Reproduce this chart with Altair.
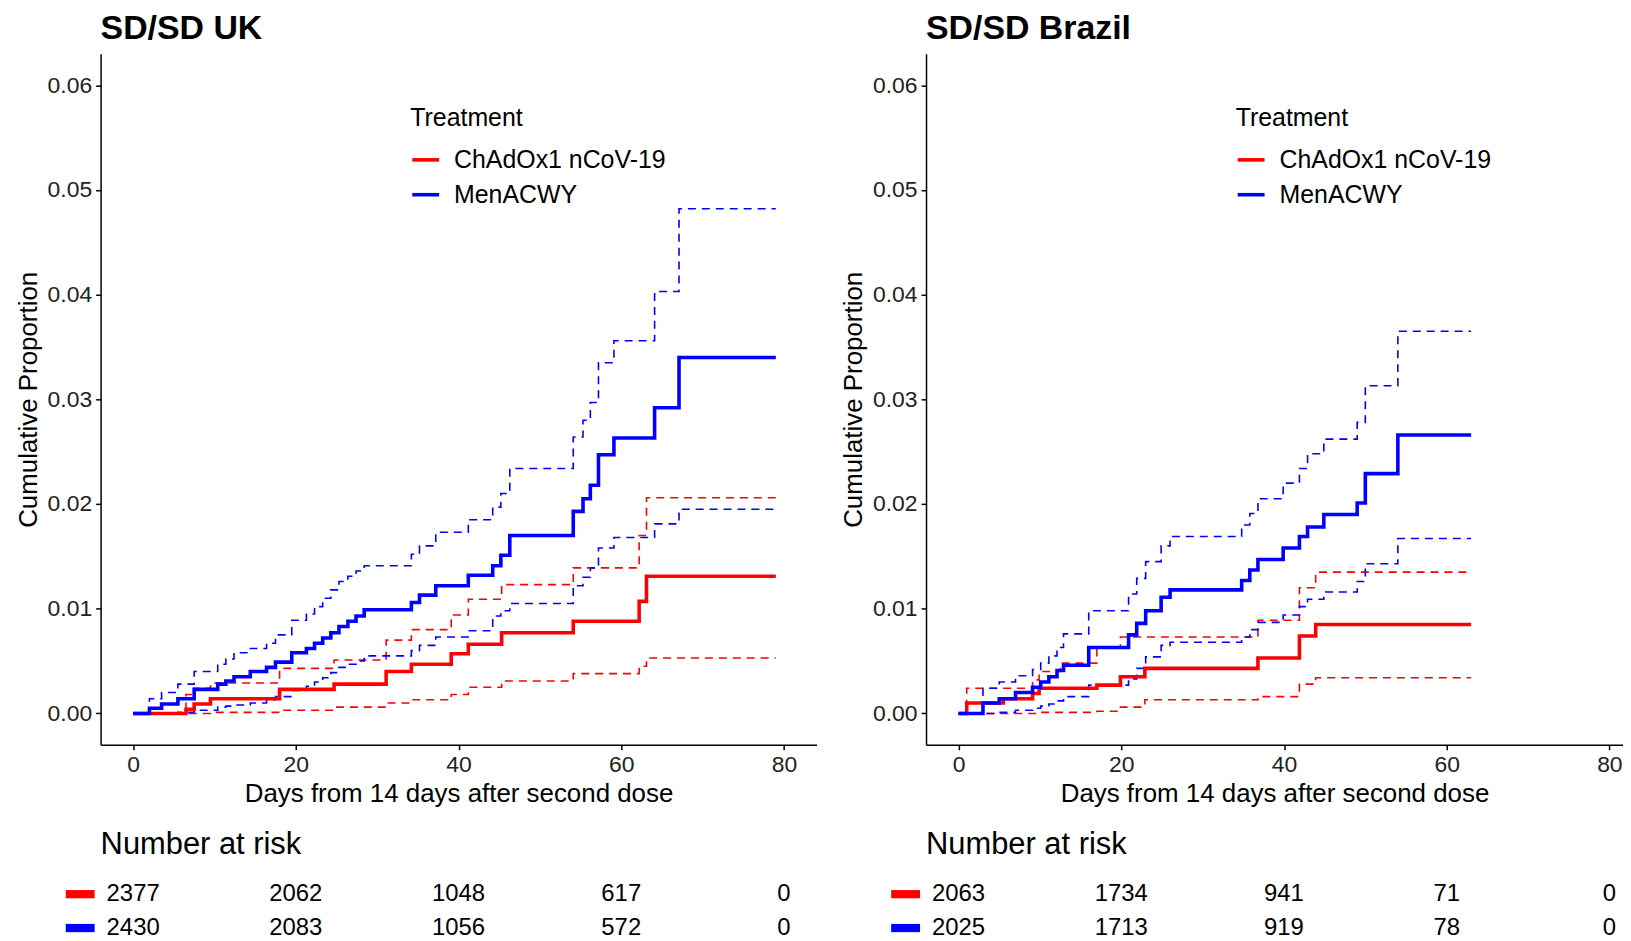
import altair as alt
import pandas as pd

# ---------------- data ----------------
TREATS = ["ChAdOx1 nCoV-19", "MenACWY"]
COLORS = ["#FF0000", "#0000FF"]

# UK, MenACWY
uk_blue_t = [0, 2, 3.5, 5.5, 7.5, 10.4, 11.4, 12.4, 14.4, 16.4, 17.5, 19.5, 21.3, 22.3, 23.3,
             24.3, 25.3, 26.4, 27.4, 28.4, 34.2, 35.2, 37.2, 41.2, 44.2, 45.2, 46.3, 54.1, 55.3,
             56.2, 57.2, 59.1, 64.1, 67.1, 79]
uk_blue_est = [0, 0.0005, 0.0009, 0.0014, 0.0023, 0.0028, 0.0031, 0.0035, 0.0040, 0.0044, 0.0049,
               0.0058, 0.0062, 0.0067, 0.0072, 0.0077, 0.0083, 0.0088, 0.0093, 0.0099, 0.0106,
               0.0113, 0.0122, 0.0132, 0.0141, 0.0151, 0.0170, 0.0193, 0.0205, 0.0218, 0.0247,
               0.0263, 0.0292, 0.0340, 0.0340]
uk_blue_hi = [0, 0.0014, 0.0020, 0.0028, 0.0040, 0.0047, 0.0052, 0.0058, 0.0062, 0.0067, 0.0075,
              0.0089, 0.0095, 0.0102, 0.0110, 0.0118, 0.0126, 0.0131, 0.0136, 0.0141, 0.0152,
              0.0160, 0.0173, 0.0185, 0.0197, 0.0210, 0.0234, 0.0264, 0.0280, 0.0297, 0.0335,
              0.0356, 0.0403, 0.0482, 0.0482]
uk_blue_lo = [0, 0, 0, 0.0001, 0.0003, 0.0006, 0.0007, 0.0008, 0.0010, 0.0013, 0.0016, 0.0022,
              0.0026, 0.0030, 0.0034, 0.0039, 0.0044, 0.0047, 0.0050, 0.0055, 0.0060, 0.0065,
              0.0073, 0.0079, 0.0093, 0.0098, 0.0105, 0.0122, 0.0130, 0.0139, 0.0158, 0.0168,
              0.0181, 0.0195, 0.0195]

# UK, ChAdOx1 nCoV-19
uk_red_t = [0, 6.5, 7.5, 9.5, 18, 24.7, 31.1, 34.2, 39.1, 41.2, 45.3, 54.1, 62.2, 63.1, 79]
uk_red_est = [0, 0.0004, 0.0009, 0.0014, 0.0023, 0.0028, 0.0040, 0.0047, 0.0057, 0.0066, 0.0077,
              0.0088, 0.0107, 0.0131, 0.0131]
uk_red_hi = [0, 0.0018, 0.0024, 0.0029, 0.0043, 0.0051, 0.0070, 0.0080, 0.0094, 0.0109, 0.0123,
             0.0139, 0.0170, 0.0206, 0.0206]
uk_red_lo = [0, 0, 0, 0.0001, 0.0003, 0.0006, 0.0010, 0.0013, 0.0018, 0.0025, 0.0031, 0.0038,
             0.0045, 0.0053, 0.0053]

# Brazil, MenACWY
br_blue_t = [0, 3, 5, 7, 9.1, 10.1, 11.1, 12.1, 12.9, 16, 20.9, 21.9, 23, 24.9, 26, 34.8, 35.8,
             36.8, 39.9, 41.9, 42.9, 44.9, 49, 50, 54, 63]
br_blue_est = [0, 0.0010, 0.0014, 0.0020, 0.0025, 0.0030, 0.0035, 0.0041, 0.0046, 0.0063, 0.0075,
               0.0086, 0.0098, 0.0111, 0.0118, 0.0127, 0.0137, 0.0147, 0.0158, 0.0169, 0.0178,
               0.0190, 0.0201, 0.0229, 0.0266, 0.0266]
br_blue_hi = [0, 0.0024, 0.0030, 0.0036, 0.0042, 0.0048, 0.0055, 0.0063, 0.0076, 0.0098, 0.0114,
              0.0129, 0.0145, 0.0160, 0.0169, 0.0180, 0.0191, 0.0205, 0.0220, 0.0234, 0.0248,
              0.0262, 0.0278, 0.0313, 0.0365, 0.0365]
br_blue_lo = [0, 0, 0.0001, 0.0003, 0.0005, 0.0007, 0.0009, 0.0012, 0.0016, 0.0027, 0.0033,
              0.0043, 0.0054, 0.0065, 0.0068, 0.0073, 0.0080, 0.0087, 0.0094, 0.0102, 0.0109,
              0.0116, 0.0126, 0.0143, 0.0167, 0.0167]

# Brazil, ChAdOx1 nCoV-19
br_red_t = [0, 1, 5.5, 9.1, 9.9, 12.5, 17, 19.9, 22.9, 36.8, 41.9, 43.9, 63]
br_red_est = [0, 0.0010, 0.0014, 0.0019, 0.0024, 0.0024, 0.0027, 0.0035, 0.0043, 0.0053, 0.0074,
              0.0085, 0.0085]
br_red_hi = [0, 0.0024, 0.0024, 0.0032, 0.0040, 0.0048, 0.0063, 0.0073, 0.0073, 0.0089, 0.0120,
             0.0135, 0.0135]
br_red_lo = [0, 0, 0, 0, 0.0001, 0.0001, 0.0002, 0.0006, 0.0013, 0.0016, 0.0028, 0.0034, 0.0034]

# Number at risk
risk_times = [0, 20, 40, 60, 80]
uk_risk_red = [2377, 2062, 1048, 617, 0]
uk_risk_blue = [2430, 2083, 1056, 572, 0]
br_risk_red = [2063, 1734, 941, 71, 0]
br_risk_blue = [2025, 1713, 919, 78, 0]

FONT = "Liberation Sans"
H = 694
PX_PER_DAY = 719 / 88.0


def curves_df(red, blue):
    rows = []
    for treat, (t, est, lo, hi) in zip(TREATS, [red, blue]):
        for kind, vals in [("est", est), ("lo", lo), ("hi", hi)]:
            for ti, v in zip(t, vals):
                rows.append({"treat": treat, "kind": kind, "time": ti, "value": v})
    return pd.DataFrame(rows)


def risk_df(red, blue):
    rows = []
    for treat, vals in zip(TREATS, [red, blue]):
        for ti, n in zip(risk_times, vals):
            rows.append({"treat": treat, "time": ti, "n": str(n)})
    return pd.DataFrame(rows)


color_scale = alt.Scale(domain=TREATS, range=COLORS)


def km_panel(title, red, blue, width, xmax):
    df = curves_df(red, blue)
    x = alt.X("time:Q", scale=alt.Scale(domain=[-4, xmax], nice=False, zero=False),
              axis=alt.Axis(values=[0, 20, 40, 60, 80], title="Days from 14 days after second dose"))
    y = alt.Y("value:Q", scale=alt.Scale(domain=[-0.003, 0.063], nice=False, zero=False),
              axis=alt.Axis(values=[0, 0.01, 0.02, 0.03, 0.04, 0.05, 0.06], format=".2f",
                            title="Cumulative Proportion"))
    base = alt.Chart(df)
    dashed = base.transform_filter(alt.datum.kind != "est").mark_line(
        interpolate="step-after", strokeWidth=1.6, strokeDash=[8, 6]
    ).encode(x=x, y=y, stroke=alt.Stroke("treat:N", scale=color_scale, legend=None),
             detail="kind:N")
    solid = base.transform_filter(alt.datum.kind == "est").mark_line(
        interpolate="step-after", strokeWidth=3.6
    ).encode(
        x=x, y=y,
        color=alt.Color("treat:N", scale=color_scale, sort=TREATS,
                        legend=alt.Legend(title="Treatment", orient="none", legendX=311, legendY=52,
                                          symbolType="stroke", symbolSize=729, symbolStrokeWidth=3.6,
                                          labelOffset=13, labelLimit=0, rowPadding=6, titlePadding=14,
                                          padding=0, labelFontSize=25, titleFontSize=25,
                                          titleFontWeight="normal", labelFont=FONT, titleFont=FONT,
                                          labelColor="#000", titleColor="#000")),
    )
    return alt.layer(dashed, solid).resolve_scale(color="independent", stroke="independent").properties(
        width=width, height=H,
        title=alt.TitleParams(title, anchor="start", frame="group", fontSize=34, fontWeight="bold",
                              font=FONT, color="#000", offset=8),
    )


def risk_panel(red, blue, width, xmax):
    df = risk_df(red, blue)
    x = alt.X("time:Q", scale=alt.Scale(domain=[-4, xmax], nice=False, zero=False), axis=None)
    y = alt.Y("treat:N", scale=alt.Scale(type="point", domain=TREATS, padding=0), axis=None)
    txt = alt.Chart(df).mark_text(fontSize=24, font=FONT, color="#000").encode(
        x=x, y=y, text="n:N")
    keys = alt.Chart(pd.DataFrame({"treat": TREATS})).mark_rule(strokeWidth=8.3).encode(
        x=alt.value(-35), x2=alt.value(-6), y=y,
        color=alt.Color("treat:N", scale=color_scale, legend=None))
    return alt.layer(keys, txt).properties(
        width=width, height=34,
        title=alt.TitleParams("Number at risk", anchor="start", frame="group", fontSize=31,
                              fontWeight="normal", font=FONT, color="#000", offset=21),
    )


W_LEFT = 719
XMAX_LEFT = 84
W_RIGHT = 700
XMAX_RIGHT = -4 + W_RIGHT / PX_PER_DAY

left = alt.vconcat(
    km_panel("SD/SD UK", (uk_red_t, uk_red_est, uk_red_lo, uk_red_hi),
             (uk_blue_t, uk_blue_est, uk_blue_lo, uk_blue_hi), W_LEFT, XMAX_LEFT),
    risk_panel(uk_risk_red, uk_risk_blue, W_LEFT, XMAX_LEFT),
    spacing=23,
)
right = alt.vconcat(
    km_panel("SD/SD Brazil", (br_red_t, br_red_est, br_red_lo, br_red_hi),
             (br_blue_t, br_blue_est, br_blue_lo, br_blue_hi), W_RIGHT, XMAX_RIGHT),
    risk_panel(br_risk_red, br_risk_blue, W_RIGHT, XMAX_RIGHT),
    spacing=23,
)

chart = alt.hconcat(left, right, spacing=24).properties(
    padding={"left": 7, "top": 2, "right": 0, "bottom": 0}
).configure(font=FONT).configure_view(stroke=None).configure_axis(
    grid=False, domainColor="#000", domainWidth=1.5, tickColor="#000", tickWidth=1.5, tickSize=5,
    labelFontSize=23, labelColor="#222", labelFont=FONT, labelPadding=4,
    titleFontSize=26, titleFontWeight="normal", titleColor="#000", titleFont=FONT, titlePadding=6,
).configure_axisX(titlePadding=4)

chart.save("out.html", embed_options={"renderer": "svg", "actions": False})
